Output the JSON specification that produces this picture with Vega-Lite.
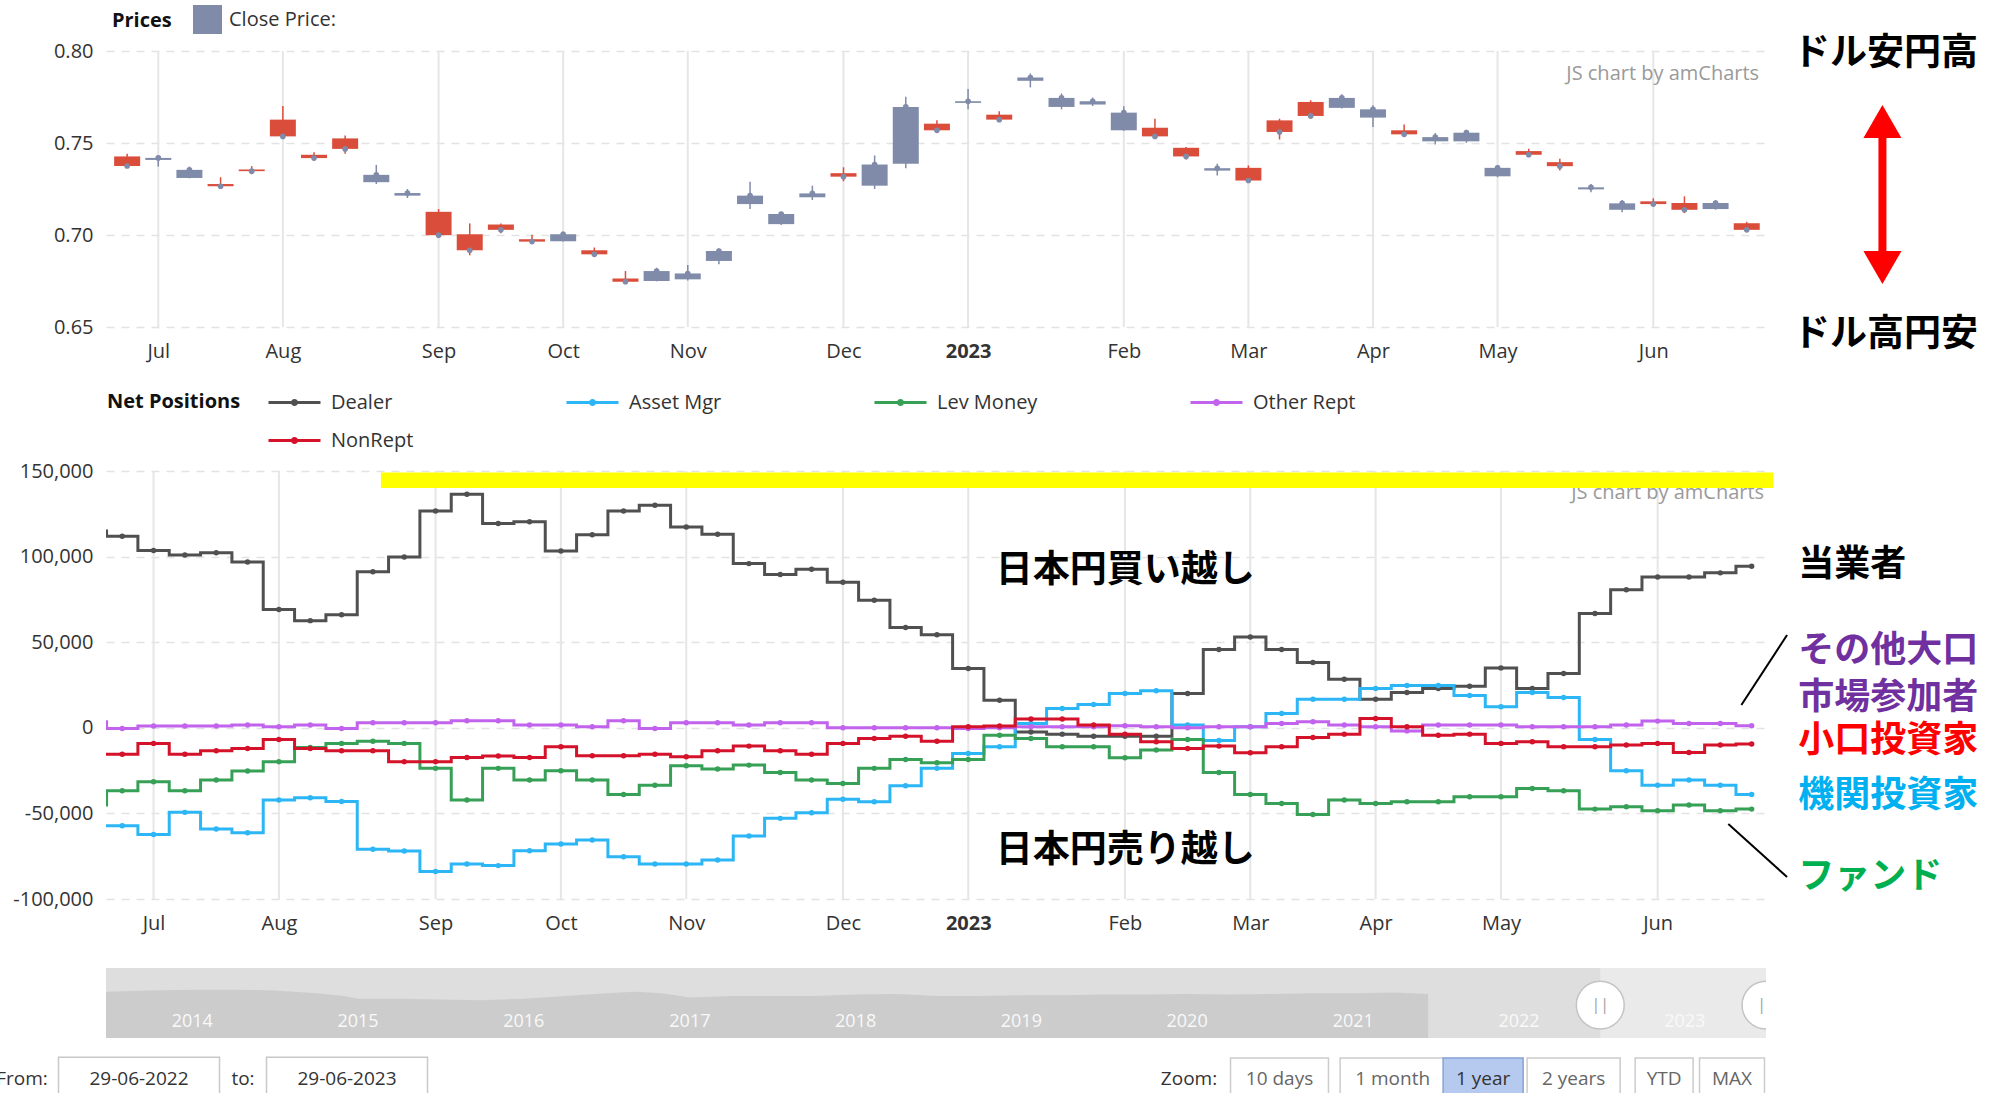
{
 "$schema": "https://vega.github.io/schema/vega-lite/v6.json",
 "width": 1660,
 "height": 987,
 "autosize": {"type": "none"},
 "padding": {"left": 106, "top": 51, "right": 238, "bottom": 55},
 "background": "#ffffff",
 "config": {
  "view": {"stroke": null},
  "font": "Open Sans",
  "axis": {"labelFont": "Open Sans", "labelFontSize": 20, "labelColor": "#333333", "domain": false, "ticks": false, "tickSize": 0, "gridColor": "#e3e3e3", "gridDash": [8, 7], "gridWidth": 1.5},
  "legend": {"labelFont": "Open Sans", "labelFontSize": 20, "labelColor": "#333333", "labelLimit": 300}
 },
 "datasets": {
  "ticks": [
   {"date": "2022-07-05"}, {"date": "2022-08-02"}, {"date": "2022-09-06"}, {"date": "2022-10-04"}, {"date": "2022-11-01"}, {"date": "2022-12-06"},
   {"date": "2023-01-03"}, {"date": "2023-02-07"}, {"date": "2023-03-07"}, {"date": "2023-04-04"}, {"date": "2023-05-02"}, {"date": "2023-06-06"}
  ],
  "prices": [
   {"date": "2022-06-28", "open": 0.7427, "high": 0.7441, "low": 0.7365, "close": 0.7375},
   {"date": "2022-07-05", "open": 0.7408, "high": 0.7432, "low": 0.7372, "close": 0.7419},
   {"date": "2022-07-12", "open": 0.7310, "high": 0.7372, "low": 0.7308, "close": 0.7354},
   {"date": "2022-07-19", "open": 0.7277, "high": 0.7314, "low": 0.7257, "close": 0.7265},
   {"date": "2022-07-26", "open": 0.7356, "high": 0.7374, "low": 0.7330, "close": 0.7347},
   {"date": "2022-08-02", "open": 0.7627, "high": 0.7701, "low": 0.7532, "close": 0.7536},
   {"date": "2022-08-09", "open": 0.7436, "high": 0.7450, "low": 0.7408, "close": 0.7418},
   {"date": "2022-08-16", "open": 0.7525, "high": 0.7541, "low": 0.7441, "close": 0.7468},
   {"date": "2022-08-23", "open": 0.7287, "high": 0.7381, "low": 0.7277, "close": 0.7327},
   {"date": "2022-08-30", "open": 0.7214, "high": 0.7250, "low": 0.7201, "close": 0.7228},
   {"date": "2022-09-06", "open": 0.7126, "high": 0.7141, "low": 0.6995, "close": 0.6999},
   {"date": "2022-09-13", "open": 0.7004, "high": 0.7063, "low": 0.6890, "close": 0.6917},
   {"date": "2022-09-20", "open": 0.7057, "high": 0.7063, "low": 0.7010, "close": 0.7028},
   {"date": "2022-09-27", "open": 0.6977, "high": 0.7001, "low": 0.6957, "close": 0.6964},
   {"date": "2022-10-04", "open": 0.6966, "high": 0.7019, "low": 0.6964, "close": 0.7004},
   {"date": "2022-10-11", "open": 0.6917, "high": 0.6932, "low": 0.6890, "close": 0.6895},
   {"date": "2022-10-18", "open": 0.6764, "high": 0.6804, "low": 0.6735, "close": 0.6746},
   {"date": "2022-10-25", "open": 0.6750, "high": 0.6822, "low": 0.6748, "close": 0.6804},
   {"date": "2022-11-01", "open": 0.6759, "high": 0.6837, "low": 0.6753, "close": 0.6791},
   {"date": "2022-11-08", "open": 0.6859, "high": 0.6926, "low": 0.6841, "close": 0.6913},
   {"date": "2022-11-15", "open": 0.7168, "high": 0.7290, "low": 0.7141, "close": 0.7214},
   {"date": "2022-11-22", "open": 0.7059, "high": 0.7123, "low": 0.7054, "close": 0.7114},
   {"date": "2022-11-29", "open": 0.7205, "high": 0.7268, "low": 0.7190, "close": 0.7226},
   {"date": "2022-12-06", "open": 0.7336, "high": 0.7368, "low": 0.7292, "close": 0.7317},
   {"date": "2022-12-13", "open": 0.7268, "high": 0.7432, "low": 0.7250, "close": 0.7383},
   {"date": "2022-12-20", "open": 0.7387, "high": 0.7751, "low": 0.7363, "close": 0.7696},
   {"date": "2022-12-27", "open": 0.7605, "high": 0.7623, "low": 0.7560, "close": 0.7569},
   {"date": "2023-01-03", "open": 0.7718, "high": 0.7793, "low": 0.7683, "close": 0.7727},
   {"date": "2023-01-10", "open": 0.7654, "high": 0.7672, "low": 0.7614, "close": 0.7627},
   {"date": "2023-01-17", "open": 0.7838, "high": 0.7878, "low": 0.7802, "close": 0.7856},
   {"date": "2023-01-24", "open": 0.7696, "high": 0.7769, "low": 0.7683, "close": 0.7745},
   {"date": "2023-01-31", "open": 0.7709, "high": 0.7747, "low": 0.7701, "close": 0.7727},
   {"date": "2023-02-07", "open": 0.7569, "high": 0.7700, "low": 0.7567, "close": 0.7665},
   {"date": "2023-02-14", "open": 0.7583, "high": 0.7632, "low": 0.7527, "close": 0.7536},
   {"date": "2023-02-21", "open": 0.7474, "high": 0.7478, "low": 0.7410, "close": 0.7427},
   {"date": "2023-02-28", "open": 0.7350, "high": 0.7387, "low": 0.7323, "close": 0.7363},
   {"date": "2023-03-07", "open": 0.7365, "high": 0.7378, "low": 0.7292, "close": 0.7296},
   {"date": "2023-03-14", "open": 0.7623, "high": 0.7632, "low": 0.7519, "close": 0.7560},
   {"date": "2023-03-21", "open": 0.7723, "high": 0.7732, "low": 0.7632, "close": 0.7647},
   {"date": "2023-03-28", "open": 0.7691, "high": 0.7765, "low": 0.7687, "close": 0.7745},
   {"date": "2023-04-04", "open": 0.7638, "high": 0.7705, "low": 0.7587, "close": 0.7683},
   {"date": "2023-04-11", "open": 0.7569, "high": 0.7601, "low": 0.7541, "close": 0.7547},
   {"date": "2023-04-18", "open": 0.7509, "high": 0.7554, "low": 0.7492, "close": 0.7532},
   {"date": "2023-04-25", "open": 0.7509, "high": 0.7572, "low": 0.7501, "close": 0.7556},
   {"date": "2023-05-02", "open": 0.7319, "high": 0.7381, "low": 0.7314, "close": 0.7365},
   {"date": "2023-05-09", "open": 0.7456, "high": 0.7469, "low": 0.7428, "close": 0.7436},
   {"date": "2023-05-16", "open": 0.7396, "high": 0.7414, "low": 0.7350, "close": 0.7374},
   {"date": "2023-05-23", "open": 0.7248, "high": 0.7277, "low": 0.7232, "close": 0.7259},
   {"date": "2023-05-30", "open": 0.7137, "high": 0.7190, "low": 0.7123, "close": 0.7172},
   {"date": "2023-06-06", "open": 0.7183, "high": 0.7199, "low": 0.7161, "close": 0.7168},
   {"date": "2023-06-13", "open": 0.7174, "high": 0.7210, "low": 0.7119, "close": 0.7137},
   {"date": "2023-06-20", "open": 0.7141, "high": 0.7190, "low": 0.7137, "close": 0.7174},
   {"date": "2023-06-27", "open": 0.7064, "high": 0.7072, "low": 0.7019, "close": 0.7028}
  ],
  "positions": [
   {"date": "2022-06-21", "Dealer": 115000, "Asset Mgr": -57200, "Lev Money": -45100, "Other Rept": 3500, "NonRept": -15400},
   {"date": "2022-06-28", "Dealer": 111900, "Asset Mgr": -57200, "Lev Money": -36800, "Other Rept": -400, "NonRept": -15400},
   {"date": "2022-07-05", "Dealer": 103500, "Asset Mgr": -62300, "Lev Money": -31500, "Other Rept": 1000, "NonRept": -9100},
   {"date": "2022-07-12", "Dealer": 101000, "Asset Mgr": -49400, "Lev Money": -36800, "Other Rept": 1000, "NonRept": -15400},
   {"date": "2022-07-19", "Dealer": 102300, "Asset Mgr": -59100, "Lev Money": -30500, "Other Rept": 1000, "NonRept": -13400},
   {"date": "2022-07-26", "Dealer": 96900, "Asset Mgr": -61300, "Lev Money": -25300, "Other Rept": 1600, "NonRept": -12100},
   {"date": "2022-08-02", "Dealer": 69100, "Asset Mgr": -42200, "Lev Money": -19800, "Other Rept": 600, "NonRept": -6800},
   {"date": "2022-08-09", "Dealer": 62600, "Asset Mgr": -40900, "Lev Money": -11500, "Other Rept": 1600, "NonRept": -12100},
   {"date": "2022-08-16", "Dealer": 66100, "Asset Mgr": -43000, "Lev Money": -9100, "Other Rept": -400, "NonRept": -13400},
   {"date": "2022-08-23", "Dealer": 91200, "Asset Mgr": -71000, "Lev Money": -7800, "Other Rept": 2900, "NonRept": -13400},
   {"date": "2022-08-30", "Dealer": 99800, "Asset Mgr": -72000, "Lev Money": -9100, "Other Rept": 2900, "NonRept": -19800},
   {"date": "2022-09-06", "Dealer": 126700, "Asset Mgr": -83900, "Lev Money": -23700, "Other Rept": 2900, "NonRept": -19800},
   {"date": "2022-09-13", "Dealer": 136400, "Asset Mgr": -79600, "Lev Money": -42200, "Other Rept": 4100, "NonRept": -17300},
   {"date": "2022-09-20", "Dealer": 119300, "Asset Mgr": -80500, "Lev Money": -23700, "Other Rept": 4100, "NonRept": -16500},
   {"date": "2022-09-27", "Dealer": 120400, "Asset Mgr": -71800, "Lev Money": -30500, "Other Rept": 1600, "NonRept": -17300},
   {"date": "2022-10-04", "Dealer": 103300, "Asset Mgr": -67900, "Lev Money": -25100, "Other Rept": 1600, "NonRept": -11100},
   {"date": "2022-10-11", "Dealer": 112800, "Asset Mgr": -65600, "Lev Money": -30500, "Other Rept": 600, "NonRept": -16300},
   {"date": "2022-10-18", "Dealer": 126700, "Asset Mgr": -75300, "Lev Money": -38900, "Other Rept": 4100, "NonRept": -16300},
   {"date": "2022-10-25", "Dealer": 130000, "Asset Mgr": -79600, "Lev Money": -33500, "Other Rept": -400, "NonRept": -15400},
   {"date": "2022-11-01", "Dealer": 117300, "Asset Mgr": -79600, "Lev Money": -22200, "Other Rept": 2900, "NonRept": -16900},
   {"date": "2022-11-08", "Dealer": 113000, "Asset Mgr": -77200, "Lev Money": -24100, "Other Rept": 2900, "NonRept": -13400},
   {"date": "2022-11-15", "Dealer": 95900, "Asset Mgr": -63200, "Lev Money": -21800, "Other Rept": 1600, "NonRept": -10700},
   {"date": "2022-11-22", "Dealer": 89500, "Asset Mgr": -52900, "Lev Money": -26100, "Other Rept": 2900, "NonRept": -13400},
   {"date": "2022-11-29", "Dealer": 92600, "Asset Mgr": -49600, "Lev Money": -30500, "Other Rept": 2900, "NonRept": -15400},
   {"date": "2022-12-06", "Dealer": 85000, "Asset Mgr": -41800, "Lev Money": -32500, "Other Rept": 0, "NonRept": -9100},
   {"date": "2022-12-13", "Dealer": 74500, "Asset Mgr": -43200, "Lev Money": -23700, "Other Rept": 0, "NonRept": -6200},
   {"date": "2022-12-20", "Dealer": 58600, "Asset Mgr": -33900, "Lev Money": -18500, "Other Rept": 0, "NonRept": -4900},
   {"date": "2022-12-27", "Dealer": 54300, "Asset Mgr": -23700, "Lev Money": -20400, "Other Rept": 0, "NonRept": -7800},
   {"date": "2023-01-03", "Dealer": 34600, "Asset Mgr": -15000, "Lev Money": -18500, "Other Rept": -400, "NonRept": 600},
   {"date": "2023-01-10", "Dealer": 16100, "Asset Mgr": -11100, "Lev Money": -4300, "Other Rept": 0, "NonRept": 1000},
   {"date": "2023-01-17", "Dealer": -2500, "Asset Mgr": 2500, "Lev Money": -6200, "Other Rept": 600, "NonRept": 5100},
   {"date": "2023-01-24", "Dealer": -3700, "Asset Mgr": 11300, "Lev Money": -11100, "Other Rept": 600, "NonRept": 5100},
   {"date": "2023-01-31", "Dealer": -4900, "Asset Mgr": 13600, "Lev Money": -11100, "Other Rept": 600, "NonRept": 1600},
   {"date": "2023-02-07", "Dealer": -4900, "Asset Mgr": 20000, "Lev Money": -17500, "Other Rept": 1200, "NonRept": -3700},
   {"date": "2023-02-14", "Dealer": -4900, "Asset Mgr": 21600, "Lev Money": -13000, "Other Rept": 600, "NonRept": -8200},
   {"date": "2023-02-21", "Dealer": 20000, "Asset Mgr": 1600, "Lev Money": -6800, "Other Rept": 0, "NonRept": -12100},
   {"date": "2023-02-28", "Dealer": 45700, "Asset Mgr": -7400, "Lev Money": -26100, "Other Rept": 600, "NonRept": -10700},
   {"date": "2023-03-07", "Dealer": 53100, "Asset Mgr": 600, "Lev Money": -38900, "Other Rept": 600, "NonRept": -14600},
   {"date": "2023-03-14", "Dealer": 45700, "Asset Mgr": 8400, "Lev Money": -44200, "Other Rept": 2500, "NonRept": -11100},
   {"date": "2023-03-21", "Dealer": 38100, "Asset Mgr": 16700, "Lev Money": -50600, "Other Rept": 3500, "NonRept": -5600},
   {"date": "2023-03-28", "Dealer": 28400, "Asset Mgr": 16700, "Lev Money": -42200, "Other Rept": 1600, "NonRept": -3700},
   {"date": "2023-04-04", "Dealer": 16700, "Asset Mgr": 23000, "Lev Money": -44200, "Other Rept": 600, "NonRept": 5400},
   {"date": "2023-04-11", "Dealer": 20600, "Asset Mgr": 24700, "Lev Money": -43200, "Other Rept": -1800, "NonRept": 600},
   {"date": "2023-04-18", "Dealer": 23000, "Asset Mgr": 24700, "Lev Money": -43200, "Other Rept": 1600, "NonRept": -4300},
   {"date": "2023-04-25", "Dealer": 24300, "Asset Mgr": 18900, "Lev Money": -40300, "Other Rept": 1600, "NonRept": -3700},
   {"date": "2023-05-02", "Dealer": 35000, "Asset Mgr": 12300, "Lev Money": -40300, "Other Rept": 1600, "NonRept": -9100},
   {"date": "2023-05-09", "Dealer": 23000, "Asset Mgr": 20600, "Lev Money": -35400, "Other Rept": 600, "NonRept": -8200},
   {"date": "2023-05-16", "Dealer": 31700, "Asset Mgr": 17700, "Lev Money": -36800, "Other Rept": 600, "NonRept": -11100},
   {"date": "2023-05-23", "Dealer": 66700, "Asset Mgr": -6800, "Lev Money": -47500, "Other Rept": 600, "NonRept": -11100},
   {"date": "2023-05-30", "Dealer": 80700, "Asset Mgr": -25100, "Lev Money": -46100, "Other Rept": 1600, "NonRept": -10100},
   {"date": "2023-06-06", "Dealer": 88100, "Asset Mgr": -33500, "Lev Money": -48400, "Other Rept": 3900, "NonRept": -9100},
   {"date": "2023-06-13", "Dealer": 88100, "Asset Mgr": -30500, "Lev Money": -45100, "Other Rept": 2500, "NonRept": -14400},
   {"date": "2023-06-20", "Dealer": 90500, "Asset Mgr": -33500, "Lev Money": -48400, "Other Rept": 2500, "NonRept": -10100},
   {"date": "2023-06-27", "Dealer": 94400, "Asset Mgr": -38900, "Lev Money": -47500, "Other Rept": 1200, "NonRept": -9500}
  ],
  "nav": [
   {"date": "2013-06-25", "value": 0.66}, {"date": "2013-10-01", "value": 0.68}, {"date": "2014-01-01", "value": 0.69}, {"date": "2014-04-01", "value": 0.69},
   {"date": "2014-07-01", "value": 0.68}, {"date": "2014-10-01", "value": 0.64}, {"date": "2014-12-01", "value": 0.60}, {"date": "2015-01-01", "value": 0.56},
   {"date": "2015-04-01", "value": 0.56}, {"date": "2015-07-01", "value": 0.55}, {"date": "2015-10-01", "value": 0.54}, {"date": "2016-01-01", "value": 0.56},
   {"date": "2016-04-01", "value": 0.60}, {"date": "2016-07-01", "value": 0.64}, {"date": "2016-09-01", "value": 0.66}, {"date": "2016-11-01", "value": 0.64},
   {"date": "2017-01-01", "value": 0.58}, {"date": "2017-04-01", "value": 0.60}, {"date": "2017-07-01", "value": 0.60}, {"date": "2017-10-01", "value": 0.60},
   {"date": "2018-01-01", "value": 0.62}, {"date": "2018-04-01", "value": 0.63}, {"date": "2018-07-01", "value": 0.60}, {"date": "2018-10-01", "value": 0.60},
   {"date": "2019-01-01", "value": 0.61}, {"date": "2019-04-01", "value": 0.61}, {"date": "2019-07-01", "value": 0.62}, {"date": "2019-10-01", "value": 0.62},
   {"date": "2020-01-01", "value": 0.63}, {"date": "2020-04-01", "value": 0.62}, {"date": "2020-07-01", "value": 0.63}, {"date": "2020-10-01", "value": 0.64},
   {"date": "2021-01-01", "value": 0.64}, {"date": "2021-04-01", "value": 0.65}, {"date": "2021-06-15", "value": 0.63}
  ],
  "years": [
   {"year": "2014", "date": "2014-01-01"}, {"year": "2015", "date": "2015-01-01"}, {"year": "2016", "date": "2016-01-01"}, {"year": "2017", "date": "2017-01-01"},
   {"year": "2018", "date": "2018-01-01"}, {"year": "2019", "date": "2019-01-01"}, {"year": "2020", "date": "2020-01-01"}, {"year": "2021", "date": "2021-01-01"},
   {"year": "2022", "date": "2022-01-01"}, {"year": "2023", "date": "2023-01-01"}
  ],
  "handles": [{"date": "2022-06-29"}, {"date": "2023-06-29"}],
  "dates": [
   {"item": "From:", "kind": "label"}, {"item": "29-06-2022", "kind": "box"}, {"item": "to:", "kind": "label"}, {"item": "29-06-2023", "kind": "box"}
  ],
  "zoom": [
   {"item": "Zoom:", "kind": "label"}, {"item": "10 days", "kind": "box"}, {"item": "1 month", "kind": "box"}, {"item": "1 year", "kind": "box"},
   {"item": "2 years", "kind": "box"}, {"item": "YTD", "kind": "box"}, {"item": "MAX", "kind": "box"}
  ]
 },
 "layer": [
  {
   "layer": [
    {
     "data": {"name": "ticks"},
     "mark": {"type": "rule", "color": "#e6e6e6", "strokeWidth": 2},
     "encoding": {
      "x": {"field": "date", "type": "temporal",
       "scale": {"type": "utc", "domain": [{"year": 2022, "month": 6, "date": 24, "hours": 9, "utc": true}, {"year": 2023, "month": 6, "date": 30, "hours": 5, "utc": true}]},
       "axis": {"orient": "bottom", "offset": -711, "title": null, "grid": false, "labelPadding": 14, "labelFlush": false, "labelOverlap": false,
        "values": [{"year": 2022, "month": 7, "date": 5, "utc": true}, {"year": 2022, "month": 8, "date": 2, "utc": true}, {"year": 2022, "month": 9, "date": 6, "utc": true}, {"year": 2022, "month": 10, "date": 4, "utc": true}, {"year": 2022, "month": 11, "date": 1, "utc": true}, {"year": 2022, "month": 12, "date": 6, "utc": true}, {"year": 2023, "month": 1, "date": 3, "utc": true}, {"year": 2023, "month": 2, "date": 7, "utc": true}, {"year": 2023, "month": 3, "date": 7, "utc": true}, {"year": 2023, "month": 4, "date": 4, "utc": true}, {"year": 2023, "month": 5, "date": 2, "utc": true}, {"year": 2023, "month": 6, "date": 6, "utc": true}],
        "labelExpr": "utcmonth(datum.value) === 0 ? utcFormat(datum.value, '%Y') : utcFormat(datum.value, '%b')",
        "labelFontWeight": {"condition": {"test": "utcmonth(datum.value) === 0", "value": "bold"}, "value": "normal"}}},
      "y": {"datum": 0.65, "type": "quantitative",
       "scale": {"domain": [0.65, 0.8], "range": [276, 0], "nice": false, "zero": false},
       "axis": {"orient": "left", "title": null, "values": [0.65, 0.7, 0.75, 0.8], "format": ".2f", "grid": true, "labelPadding": 13}},
      "y2": {"datum": 0.8}
     }
    },
    {
     "data": {"name": "prices"},
     "mark": {"type": "rule", "strokeWidth": 1.5},
     "encoding": {
      "x": {"field": "date", "type": "temporal"},
      "y": {"field": "low", "type": "quantitative"},
      "y2": {"field": "high"},
      "color": {"condition": {"test": "datum.close < datum.open", "value": "#db4d3b"}, "value": "#7f8ba8"}
     }
    },
    {
     "data": {"name": "prices"},
     "mark": {"type": "bar", "size": 26},
     "encoding": {
      "x": {"field": "date", "type": "temporal"},
      "y": {"field": "open", "type": "quantitative"},
      "y2": {"field": "close"},
      "color": {"condition": {"test": "datum.close < datum.open", "value": "#db4d3b"}, "value": "#7f8ba8"}
     }
    },
    {
     "data": {"name": "prices"},
     "mark": {"type": "point", "filled": true, "size": 32, "opacity": 1, "strokeWidth": 0},
     "encoding": {
      "x": {"field": "date", "type": "temporal"},
      "y": {"field": "close", "type": "quantitative"},
      "fill": {"datum": "Close Price:", "type": "nominal", "scale": {"range": ["#7f8ba8"]},
       "legend": {"title": null, "orient": "none", "legendX": 87, "legendY": -46, "symbolType": "square", "symbolSize": 841, "symbolStrokeWidth": 0, "symbolOpacity": 1, "labelOffset": 7}}
     }
    },
    {
     "data": {"values": [{}]},
     "mark": {"type": "text", "text": "Prices", "align": "left", "baseline": "middle", "fontSize": 20, "fontWeight": "bold", "color": "#111111", "font": "Open Sans"},
     "encoding": {"x": {"datum": {"year": 2022, "month": 6, "date": 24, "hours": 14, "utc": true}, "type": "temporal"}, "y": {"datum": 0.8163, "type": "quantitative"}}
    },
    {
     "data": {"values": [{}]},
     "mark": {"type": "text", "text": "JS chart by amCharts", "align": "right", "baseline": "middle", "fontSize": 20, "color": "#9a9a9a", "font": "Open Sans"},
     "encoding": {"x": {"datum": {"year": 2023, "month": 6, "date": 29, "hours": 19, "utc": true}, "type": "temporal"}, "y": {"datum": 0.7875, "type": "quantitative"}}
    },
    {
     "data": {"values": [{}]},
     "mark": {"type": "text", "text": "ドル安円高", "align": "left", "baseline": "middle", "fontSize": 37, "fontWeight": "bold", "color": "#000000", "font": "Noto Sans CJK JP"},
     "encoding": {"x": {"datum": {"year": 2023, "month": 7, "date": 7, "hours": 10, "utc": true}, "type": "temporal"}, "y": {"datum": 0.7984, "type": "quantitative"}}
    },
    {
     "data": {"values": [{}]},
     "mark": {"type": "text", "text": "ドル高円安", "align": "left", "baseline": "middle", "fontSize": 37, "fontWeight": "bold", "color": "#000000", "font": "Noto Sans CJK JP"},
     "encoding": {"x": {"datum": {"year": 2023, "month": 7, "date": 7, "hours": 10, "utc": true}, "type": "temporal"}, "y": {"datum": 0.6457, "type": "quantitative"}}
    },
    {
     "data": {"values": [{}]},
     "mark": {"type": "rule", "color": "#ff0000", "strokeWidth": 8},
     "encoding": {"x": {"datum": {"year": 2023, "month": 7, "date": 27, "hours": 12, "utc": true}, "type": "temporal"}, "y": {"datum": 0.7617, "type": "quantitative"}, "y2": {"datum": 0.6823}}
    },
    {
     "data": {"values": [{}]},
     "mark": {"type": "point", "shape": "triangle-up", "filled": true, "size": 1444, "color": "#ff0000", "opacity": 1},
     "encoding": {"x": {"datum": {"year": 2023, "month": 7, "date": 27, "hours": 12, "utc": true}, "type": "temporal"}, "y": {"datum": 0.7617, "type": "quantitative"}}
    },
    {
     "data": {"values": [{}]},
     "mark": {"type": "point", "shape": "triangle-down", "filled": true, "size": 1444, "color": "#ff0000", "opacity": 1},
     "encoding": {"x": {"datum": {"year": 2023, "month": 7, "date": 27, "hours": 12, "utc": true}, "type": "temporal"}, "y": {"datum": 0.6823, "type": "quantitative"}}
    }
   ]
  },
  {
   "layer": [
    {
     "data": {"name": "ticks"},
     "mark": {"type": "rule", "color": "#e6e6e6", "strokeWidth": 2},
     "encoding": {
      "x": {"field": "date", "type": "temporal",
       "scale": {"type": "utc", "domain": [{"year": 2022, "month": 6, "date": 24, "hours": 9, "utc": true}, {"year": 2023, "month": 6, "date": 30, "hours": 5, "utc": true}]},
       "axis": {"orient": "bottom", "offset": -139, "title": null, "grid": false, "labelPadding": 14, "labelFlush": false, "labelOverlap": false,
        "values": [{"year": 2022, "month": 7, "date": 5, "utc": true}, {"year": 2022, "month": 8, "date": 2, "utc": true}, {"year": 2022, "month": 9, "date": 6, "utc": true}, {"year": 2022, "month": 10, "date": 4, "utc": true}, {"year": 2022, "month": 11, "date": 1, "utc": true}, {"year": 2022, "month": 12, "date": 6, "utc": true}, {"year": 2023, "month": 1, "date": 3, "utc": true}, {"year": 2023, "month": 2, "date": 7, "utc": true}, {"year": 2023, "month": 3, "date": 7, "utc": true}, {"year": 2023, "month": 4, "date": 4, "utc": true}, {"year": 2023, "month": 5, "date": 2, "utc": true}, {"year": 2023, "month": 6, "date": 6, "utc": true}],
        "labelExpr": "utcmonth(datum.value) === 0 ? utcFormat(datum.value, '%Y') : utcFormat(datum.value, '%b')",
        "labelFontWeight": {"condition": {"test": "utcmonth(datum.value) === 0", "value": "bold"}, "value": "normal"}}},
      "y": {"datum": -100000, "type": "quantitative",
       "scale": {"domain": [-100000, 150000], "range": [848, 420], "nice": false, "zero": false},
       "axis": {"orient": "left", "title": null, "values": [-100000, -50000, 0, 50000, 100000, 150000], "labelExpr": "replace(format(datum.value, ','), '\u2212', '-')", "grid": true, "labelPadding": 13}},
      "y2": {"datum": 150000}
     }
    },
    {
     "data": {"values": [{}]},
     "mark": {"type": "text", "text": "JS chart by amCharts", "align": "right", "baseline": "middle", "fontSize": 20, "color": "#9a9a9a", "font": "Open Sans"},
     "encoding": {"x": {"datum": {"year": 2023, "month": 6, "date": 29, "hours": 19, "utc": true}, "type": "temporal"}, "y": {"datum": 137000, "type": "quantitative"}}
    },
    {
     "data": {"values": [{}]},
     "mark": {"type": "rect", "color": "#ffff00"},
     "encoding": {
      "x": {"datum": {"year": 2022, "month": 8, "date": 24, "hours": 19, "utc": true}, "type": "temporal"},
      "x2": {"datum": {"year": 2023, "month": 7, "date": 1, "hours": 19, "utc": true}},
      "y": {"datum": 140070, "type": "quantitative"},
      "y2": {"datum": 149124}
     }
    },
    {
     "data": {"name": "positions"},
     "transform": [{"fold": ["Dealer", "Asset Mgr", "Lev Money", "Other Rept", "NonRept"], "as": ["series", "value"]}],
     "mark": {"type": "line", "interpolate": "step", "strokeWidth": 3, "clip": true},
     "encoding": {
      "x": {"field": "date", "type": "temporal"},
      "y": {"field": "value", "type": "quantitative"},
      "color": {"field": "series", "type": "nominal",
       "scale": {"domain": ["Dealer", "Asset Mgr", "Lev Money", "Other Rept", "NonRept"], "range": ["#505050", "#2db6f5", "#37a057", "#c263ee", "#d4122a"]},
       "legend": {"title": null, "orient": "none", "legendX": 161, "legendY": 324, "direction": "horizontal", "columns": 4, "gridAlign": "none", "columnPadding": 146, "rowPadding": 0,
        "symbolType": "M-1,0H1M0.08,0A0.08,0.08,0,1,1,-0.08,0A0.08,0.08,0,1,1,0.08,0", "symbolSize": 2704, "symbolStrokeWidth": 3, "labelOffset": 9}}
     }
    },
    {
     "data": {"name": "positions"},
     "transform": [{"fold": ["Dealer", "Asset Mgr", "Lev Money", "Other Rept", "NonRept"], "as": ["series", "value"]}],
     "mark": {"type": "point", "filled": true, "size": 30, "opacity": 1, "clip": true},
     "encoding": {
      "x": {"field": "date", "type": "temporal"},
      "y": {"field": "value", "type": "quantitative"},
      "color": {"field": "series", "type": "nominal"}
     }
    },
    {
     "data": {"values": [{}]},
     "mark": {"type": "text", "text": "Net Positions", "align": "left", "baseline": "middle", "fontSize": 20, "fontWeight": "bold", "color": "#111111", "font": "Open Sans"},
     "encoding": {"x": {"datum": {"year": 2022, "month": 6, "date": 24, "hours": 14, "utc": true}, "type": "temporal"}, "y": {"datum": 190304, "type": "quantitative"}}
    },
    {
     "data": {"values": [{}]},
     "mark": {"type": "text", "text": "日本円買い越し", "align": "center", "baseline": "middle", "fontSize": 37, "fontWeight": "bold", "color": "#000000", "font": "Noto Sans CJK JP"},
     "encoding": {"x": {"datum": {"year": 2023, "month": 2, "date": 7, "hours": 2, "utc": true}, "type": "temporal"}, "y": {"datum": 91589, "type": "quantitative"}}
    },
    {
     "data": {"values": [{}]},
     "mark": {"type": "text", "text": "日本円売り越し", "align": "center", "baseline": "middle", "fontSize": 37, "fontWeight": "bold", "color": "#000000", "font": "Noto Sans CJK JP"},
     "encoding": {"x": {"datum": {"year": 2023, "month": 2, "date": 7, "hours": 2, "utc": true}, "type": "temporal"}, "y": {"datum": -71963, "type": "quantitative"}}
    },
    {
     "data": {"values": [{}]},
     "mark": {"type": "text", "text": "当業者", "align": "left", "baseline": "middle", "fontSize": 36, "fontWeight": "bold", "color": "#000000", "font": "Noto Sans CJK JP"},
     "encoding": {"x": {"datum": {"year": 2023, "month": 7, "date": 7, "hours": 10, "utc": true}, "type": "temporal"}, "y": {"datum": 95093, "type": "quantitative"}}
    },
    {
     "data": {"values": [{}]},
     "mark": {"type": "text", "text": "その他大口", "align": "left", "baseline": "middle", "fontSize": 36, "fontWeight": "bold", "color": "#7030a0", "font": "Noto Sans CJK JP"},
     "encoding": {"x": {"datum": {"year": 2023, "month": 7, "date": 7, "hours": 10, "utc": true}, "type": "temporal"}, "y": {"datum": 45000, "type": "quantitative"}}
    },
    {
     "data": {"values": [{}]},
     "mark": {"type": "text", "text": "市場参加者", "align": "left", "baseline": "middle", "fontSize": 36, "fontWeight": "bold", "color": "#7030a0", "font": "Noto Sans CJK JP"},
     "encoding": {"x": {"datum": {"year": 2023, "month": 7, "date": 7, "hours": 10, "utc": true}, "type": "temporal"}, "y": {"datum": 17500, "type": "quantitative"}}
    },
    {
     "data": {"values": [{}]},
     "mark": {"type": "text", "text": "小口投資家", "align": "left", "baseline": "middle", "fontSize": 36, "fontWeight": "bold", "color": "#ff0000", "font": "Noto Sans CJK JP"},
     "encoding": {"x": {"datum": {"year": 2023, "month": 7, "date": 7, "hours": 10, "utc": true}, "type": "temporal"}, "y": {"datum": -7710, "type": "quantitative"}}
    },
    {
     "data": {"values": [{}]},
     "mark": {"type": "text", "text": "機関投資家", "align": "left", "baseline": "middle", "fontSize": 36, "fontWeight": "bold", "color": "#00b0f0", "font": "Noto Sans CJK JP"},
     "encoding": {"x": {"datum": {"year": 2023, "month": 7, "date": 7, "hours": 10, "utc": true}, "type": "temporal"}, "y": {"datum": -39836, "type": "quantitative"}}
    },
    {
     "data": {"values": [{}]},
     "mark": {"type": "text", "text": "ファンド", "align": "left", "baseline": "middle", "fontSize": 36, "fontWeight": "bold", "color": "#00b050", "font": "Noto Sans CJK JP"},
     "encoding": {"x": {"datum": {"year": 2023, "month": 7, "date": 7, "hours": 10, "utc": true}, "type": "temporal"}, "y": {"datum": -87150, "type": "quantitative"}}
    },
    {
     "data": {"values": [{}]},
     "mark": {"type": "rule", "color": "#000000", "strokeWidth": 2},
     "encoding": {
      "x": {"datum": {"year": 2023, "month": 7, "date": 4, "hours": 22, "utc": true}, "type": "temporal"},
      "x2": {"datum": {"year": 2023, "month": 6, "date": 24, "hours": 17, "utc": true}},
      "y": {"datum": 54206, "type": "quantitative"},
      "y2": {"datum": 13318}
     }
    },
    {
     "data": {"values": [{}]},
     "mark": {"type": "rule", "color": "#000000", "strokeWidth": 2},
     "encoding": {
      "x": {"datum": {"year": 2023, "month": 6, "date": 21, "hours": 19, "utc": true}, "type": "temporal"},
      "x2": {"datum": {"year": 2023, "month": 7, "date": 4, "hours": 22, "utc": true}},
      "y": {"datum": -56192, "type": "quantitative"},
      "y2": {"datum": -87150}
     }
    }
   ]
  },
  {
   "layer": [
    {
     "data": {"values": [{}]},
     "mark": {"type": "rect", "color": "#dedede"},
     "encoding": {
      "x": {"datum": {"year": 2013, "month": 6, "date": 25, "utc": true}, "type": "temporal",
       "scale": {"type": "utc", "domain": [{"year": 2013, "month": 6, "date": 25, "utc": true}, {"year": 2023, "month": 6, "date": 29, "utc": true}]}, "axis": null},
      "x2": {"datum": {"year": 2023, "month": 6, "date": 29, "utc": true}},
      "y": {"datum": 0, "type": "quantitative", "scale": {"domain": [0, 1], "range": [987, 917], "nice": false, "zero": false}, "axis": null},
      "y2": {"datum": 1}
     }
    },
    {
     "data": {"values": [{}]},
     "mark": {"type": "rect", "color": "#eaeaea"},
     "encoding": {
      "x": {"datum": {"year": 2022, "month": 6, "date": 29, "utc": true}, "type": "temporal"},
      "x2": {"datum": {"year": 2023, "month": 6, "date": 29, "utc": true}},
      "y": {"datum": 0, "type": "quantitative"},
      "y2": {"datum": 1}
     }
    },
    {
     "data": {"name": "nav"},
     "mark": {"type": "area", "color": "#cccccc"},
     "encoding": {
      "x": {"field": "date", "type": "temporal"},
      "y": {"field": "value", "type": "quantitative"},
      "y2": {"datum": 0}
     }
    },
    {
     "data": {"name": "years"},
     "mark": {"type": "text", "color": "#f9f9f9", "fontSize": 18, "font": "Open Sans", "baseline": "middle"},
     "encoding": {
      "x": {"field": "date", "type": "temporal"},
      "y": {"datum": 0.23, "type": "quantitative"},
      "text": {"field": "year"}
     }
    },
    {
     "data": {"name": "handles"},
     "mark": {"type": "point", "shape": "circle", "filled": true, "size": 2290, "color": "#ffffff", "stroke": "#c4c4c4", "strokeWidth": 1.5, "opacity": 1, "clip": true},
     "encoding": {
      "x": {"field": "date", "type": "temporal"},
      "y": {"datum": 0.47, "type": "quantitative"}
     }
    },
    {
     "data": {"name": "handles"},
     "mark": {"type": "text", "text": "||", "color": "#a0a0a0", "fontSize": 16, "baseline": "middle", "clip": true},
     "encoding": {
      "x": {"field": "date", "type": "temporal"},
      "y": {"datum": 0.47, "type": "quantitative"}
     }
    }
   ]
  },
  {
   "layer": [
    {
     "data": {"name": "dates"},
     "transform": [{"filter": "datum.kind === 'box'"}],
     "mark": {"type": "point", "shape": "M-1,-0.27H1V0.27H-1Z", "filled": true, "size": 25921, "color": "#ffffff", "stroke": "#c8c8c8", "strokeWidth": 1.5, "opacity": 1},
     "encoding": {
      "x": {"field": "item", "type": "nominal", "axis": null,
       "scale": {"type": "point", "padding": 0, "range": [-84, 241],
        "domain": ["From:", "s1", "s2", "s3", "s4", "s5", "s6", "s7", "s8", "29-06-2022", "s10", "s11", "s12", "s13", "s14", "s15", "s16", "to:", "s18", "s19", "s20", "s21", "s22", "s23", "s24", "29-06-2023"]}},
      "y": {"datum": 0.5, "type": "quantitative", "scale": {"domain": [0, 1], "range": [1048, 1008]}, "axis": null}
     }
    },
    {
     "data": {"name": "dates"},
     "mark": {"type": "text", "fontSize": 19, "color": "#333333", "font": "Open Sans", "baseline": "middle"},
     "encoding": {
      "x": {"field": "item", "type": "nominal"},
      "y": {"datum": 0.5, "type": "quantitative"},
      "text": {"field": "item"}
     }
    }
   ]
  },
  {
   "layer": [
    {
     "data": {"name": "zoom"},
     "transform": [{"filter": "datum.kind === 'box'"}],
     "mark": {"type": "point", "filled": true, "size": 11025, "strokeWidth": 1.5, "opacity": 1},
     "encoding": {
      "x": {"field": "item", "type": "nominal", "axis": null,
       "scale": {"type": "point", "padding": 0, "range": [1083, 1626],
        "domain": ["Zoom:", "z1", "z2", "z3", "10 days", "z5", "z6", "z7", "z8", "1 month", "z10", "z11", "z12", "1 year", "z14", "z15", "z16", "2 years", "z18", "z19", "z20", "YTD", "z22", "z23", "MAX"]}},
      "y": {"datum": 0.5, "type": "quantitative", "scale": {"domain": [0, 1], "range": [1048, 1008]}, "axis": null},
      "shape": {"field": "item", "type": "nominal", "legend": null,
       "scale": {"domain": ["10 days", "1 month", "1 year", "2 years", "YTD", "MAX"],
        "range": ["M-0.933,-0.4H0.933V0.4H-0.933Z", "M-1,-0.4H1V0.4H-1Z", "M-0.762,-0.4H0.762V0.4H-0.762Z", "M-0.886,-0.4H0.886V0.4H-0.886Z", "M-0.552,-0.4H0.552V0.4H-0.552Z", "M-0.619,-0.4H0.619V0.4H-0.619Z"]}},
      "color": {"condition": {"test": "datum.item === '1 year'", "value": "#b6c9ee"}, "value": "#ffffff"},
      "stroke": {"condition": {"test": "datum.item === '1 year'", "value": "#86a2d6"}, "value": "#cccccc"}
     }
    },
    {
     "data": {"name": "zoom"},
     "mark": {"type": "text", "fontSize": 19, "font": "Open Sans", "baseline": "middle"},
     "encoding": {
      "x": {"field": "item", "type": "nominal"},
      "y": {"datum": 0.5, "type": "quantitative"},
      "text": {"field": "item"},
      "color": {"condition": {"test": "datum.item === 'Zoom:' || datum.item === '1 year'", "value": "#333333"}, "value": "#666666"}
     }
    }
   ]
  }
 ],
 "resolve": {
  "scale": {"x": "independent", "y": "independent", "color": "independent", "fill": "independent", "stroke": "independent", "shape": "independent"},
  "axis": {"x": "independent", "y": "independent"},
  "legend": {"color": "independent", "fill": "independent", "shape": "independent"}
 }
}
